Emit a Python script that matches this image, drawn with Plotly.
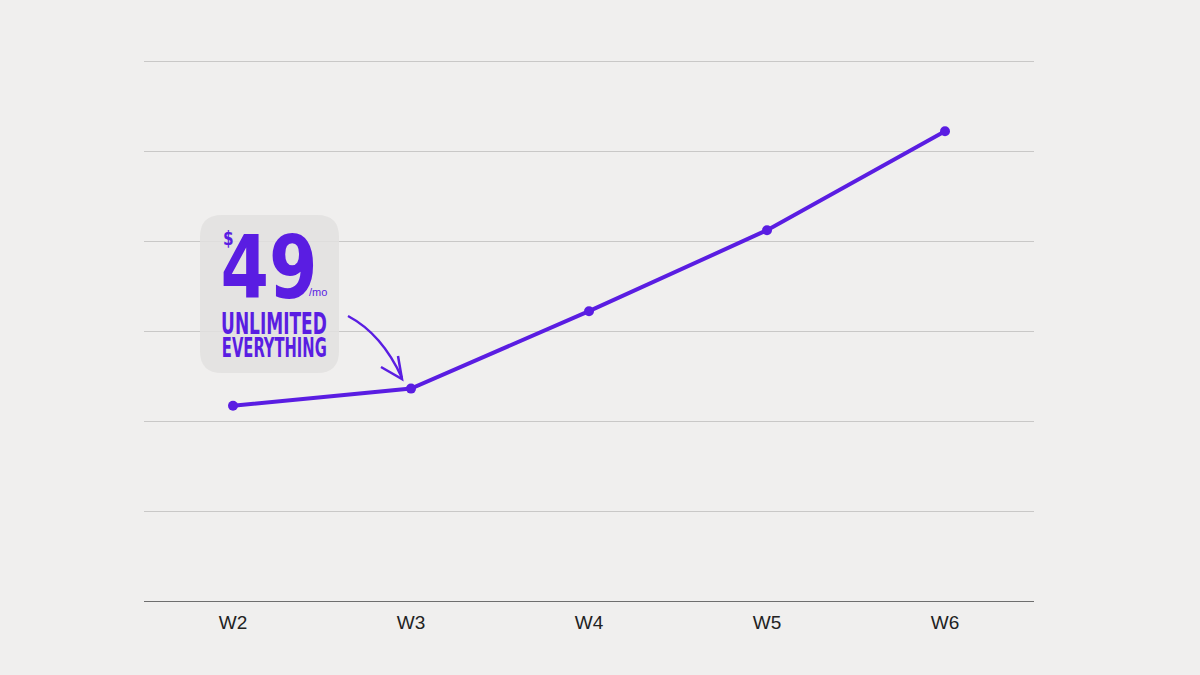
import plotly.graph_objects as go

weeks = ["W2", "W3", "W4", "W5", "W6"]
values = [2.17, 2.36, 3.22, 4.12, 5.22]
y_ticks = [0, 1, 2, 3, 4, 5, 6]

LINE_COLOR = "#5a1de2"
BG = "#f0efee"

# plot area in pixels (for decorative callout placement)
L, R, T, B = 144, 1034, 59, 601
Y_TOP = (B - T) / 90.0  # keeps one unit = 90px, so top gridline (6) is drawn


def px(x):
    return (x - L) / (R - L)


def py(y):
    return (B - y) / (B - T)


fig = go.Figure()
fig.add_trace(go.Scatter(
    x=weeks, y=values, mode="lines+markers",
    line=dict(color=LINE_COLOR, width=4),
    marker=dict(color=LINE_COLOR, size=10),
    hoverinfo="skip", showlegend=False,
))

# rounded callout box
x0, y0, x1, y1, r = 200, 215, 339, 373, 22
path = (f"M {px(x0 + r)} {py(y0)} L {px(x1 - r)} {py(y0)} "
        f"Q {px(x1)} {py(y0)} {px(x1)} {py(y0 + r)} "
        f"L {px(x1)} {py(y1 - r)} Q {px(x1)} {py(y1)} {px(x1 - r)} {py(y1)} "
        f"L {px(x0 + r)} {py(y1)} Q {px(x0)} {py(y1)} {px(x0)} {py(y1 - r)} "
        f"L {px(x0)} {py(y0 + r)} Q {px(x0)} {py(y0)} {px(x0 + r)} {py(y0)} Z")
shapes = [
    dict(type="path", path=path, xref="paper", yref="paper",
         fillcolor="rgba(226,225,223,0.85)", line=dict(width=0), layer="above"),
    # curved arrow
    dict(type="path", xref="paper", yref="paper",
         path=f"M {px(348)} {py(316)} Q {px(382)} {py(334)} {px(402)} {py(378)}",
         line=dict(color=LINE_COLOR, width=2.5)),
    dict(type="path", xref="paper", yref="paper",
         path=f"M {px(398)} {py(356)} L {px(402)} {py(379)} L {px(381)} {py(367)}",
         line=dict(color=LINE_COLOR, width=2.5)),
]

cond = "DejaVu Sans Condensed, DejaVu Sans, sans-serif"
annotations = [
    dict(text="<b>49</b>", x=px(268.5), y=py(267), xref="paper", yref="paper",
         xanchor="center", yanchor="middle", showarrow=False,
         font=dict(family=cond, size=88, color=LINE_COLOR)),
    dict(text="<b>$</b>", x=px(228), y=py(238), xref="paper", yref="paper",
         xanchor="center", yanchor="middle", showarrow=False,
         font=dict(family=cond, size=20, color=LINE_COLOR)),
    dict(text="/mo", x=px(318), y=py(292), xref="paper", yref="paper",
         xanchor="center", yanchor="middle", showarrow=False,
         font=dict(family="Liberation Sans, Arial, sans-serif", size=11, color=LINE_COLOR)),
    dict(text="<b>UNLIMITED</b>", x=px(274), y=py(323), xref="paper", yref="paper",
         xanchor="center", yanchor="middle", showarrow=False,
         font=dict(family=cond, size=30, color=LINE_COLOR)),
    dict(text="<b>EVERYTHING</b>", x=px(274), y=py(348.5), xref="paper", yref="paper",
         xanchor="center", yanchor="middle", showarrow=False,
         font=dict(family=cond, size=26, color=LINE_COLOR)),
]

fig.update_layout(
    width=1200, height=675,
    margin=dict(l=L, r=1200 - R, t=T, b=675 - B),
    paper_bgcolor=BG, plot_bgcolor=BG,
    shapes=shapes, annotations=annotations,
    xaxis=dict(type="category", range=[-0.5, 4.5], showgrid=False,
               showline=True, linecolor="#6e6e6e", linewidth=1,
               ticks="", ticklabelstandoff=4,
               tickfont=dict(family="Liberation Sans, Arial, sans-serif",
                             size=19, color="#222222"),
               zeroline=False, fixedrange=True),
    yaxis=dict(range=[0, Y_TOP], tickvals=y_ticks, showticklabels=False,
               showgrid=True, gridcolor="#c9c8c7", gridwidth=1,
               zeroline=False, showline=False, fixedrange=True),
)

post = """
document.body.style.margin = '0';
document.body.style.padding = '0';
var gd = document.getElementById('{plot_id}');
var sx = {'49': 0.88, '$': 0.85, 'UNLIMITED': 0.63, 'EVERYTHING': 0.63};
gd.querySelectorAll('text.annotation-text').forEach(function (t) {
  var k = t.textContent;
  if (!(k in sx)) return;
  var bb = t.getBBox();
  var cx = bb.x + bb.width / 2;
  t.setAttribute('transform', 'translate(' + cx + ',0) scale(' + sx[k] + ',1) translate(' + (-cx) + ',0)');
});
"""

fig.write_html("out.html", post_script=post, config={"displayModeBar": False})
